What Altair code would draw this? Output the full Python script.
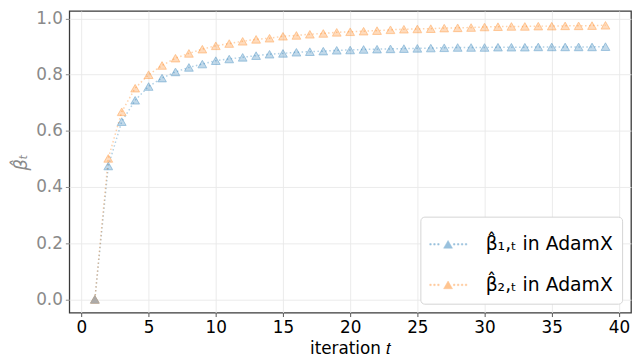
import altair as alt
import pandas as pd

t_values = list(range(1, 40))
beta1_hat = [0.0, 0.475, 0.633, 0.709, 0.758, 0.788, 0.810, 0.826, 0.838, 0.850,
             0.856, 0.862, 0.868, 0.873, 0.876, 0.880, 0.882, 0.884, 0.887, 0.888,
             0.890, 0.891, 0.892, 0.893, 0.894, 0.895, 0.896, 0.897, 0.897, 0.897,
             0.898, 0.898, 0.898, 0.899, 0.899, 0.899, 0.899, 0.899, 0.900]
beta2_hat = [0.0, 0.502, 0.668, 0.752, 0.800, 0.833, 0.859, 0.876, 0.891, 0.903,
             0.911, 0.919, 0.926, 0.930, 0.937, 0.940, 0.944, 0.947, 0.951, 0.953,
             0.955, 0.957, 0.960, 0.962, 0.963, 0.964, 0.966, 0.967, 0.968, 0.970,
             0.971, 0.972, 0.972, 0.973, 0.973, 0.974, 0.974, 0.975, 0.976]
series_names = ["β̂₁,ₜ in AdamX", "β̂₂,ₜ in AdamX"]
series_colors = ["#1f77b4", "#ff7f0e"]
start_t = [1]
start_value = [0.0]
x_ticks = [0, 5, 10, 15, 20, 25, 30, 35, 40]
y_ticks = [0.0, 0.2, 0.4, 0.6, 0.8, 1.0]

n = len(t_values)
df = pd.DataFrame({
    "t": t_values + t_values,
    "value": beta1_hat + beta2_hat,
    "series": [series_names[0]] * n + [series_names[1]] * n,
})
df_start = pd.DataFrame({"t": start_t, "value": start_value})

# legend symbol: dotted line with a triangle marker
parts = []
xx = -1.0
while xx < 0.95:
    if abs(xx + 0.04) > 0.32:
        parts.append(f"M{xx:.3f},-0.04h0.08v0.08h-0.08z")
    xx += 0.216
parts.append("M0,-0.21L0.243,0.21L-0.243,0.21Z")
legend_path = " ".join(parts)

FONT = "DejaVu Sans"

x_enc = alt.X("t:Q",
              scale=alt.Scale(domain=[-0.9, 40.9], nice=False, zero=False),
              axis=alt.Axis(values=x_ticks, title="iteration 𝑡", format="d",
                            labelColor="black", titleColor="black",
                            tickColor="#555", titlePadding=5))
y_enc = alt.Y("value:Q",
              scale=alt.Scale(domain=[-0.047, 1.027], nice=False, zero=False),
              axis=alt.Axis(values=y_ticks, title="β̂ₜ", format=".1f",
                            labelColor="#8a8a8a", titleColor="#8a8a8a",
                            tickColor="#8a8a8a", titlePadding=5,
                            titleFontStyle="italic", titleFontSize=18))
color_scale = alt.Scale(domain=series_names, range=series_colors)
color_enc = alt.Color("series:N", scale=color_scale,
                      legend=alt.Legend(title=None, orient="bottom-right", offset=9,
                                        symbolType=legend_path, symbolSize=1369,
                                        symbolOpacity=0.45, symbolStrokeWidth=0.5,
                                        labelFontSize=19, labelFont=FONT,
                                        labelColor="black", fillColor="white",
                                        strokeColor="#d5d5d5", cornerRadius=4,
                                        padding=9, rowPadding=12, labelOffset=19))

base = alt.Chart(df).encode(x=x_enc, y=y_enc, color=color_enc)
lines = base.mark_line(strokeDash=[1.5, 2.5], strokeWidth=1.5, opacity=0.35)
pts_fill = base.mark_point(shape="triangle-up", size=80, filled=True, opacity=0.28)
pts_edge = base.mark_point(shape="triangle-up", size=80, filled=False,
                           strokeWidth=1, opacity=0.35)
start_pt = alt.Chart(df_start).mark_point(
    shape="triangle-up", size=80, filled=True, color="#a8a8a8", opacity=0.9
).encode(x="t:Q", y="value:Q")

chart = alt.layer(lines, pts_fill, pts_edge, start_pt).properties(
    width=568, height=305,
    autosize=alt.AutoSizeParams(type="none"),
    padding={"left": 62, "top": 1, "right": 1, "bottom": 50},
).configure_view(
    stroke="#3a3a3a", strokeWidth=1.3
).configure_axis(
    domain=False, grid=True, gridColor="#e8e8e8", gridWidth=0.9,
    labelFont=FONT, titleFont=FONT, labelFontSize=17, titleFontSize=17,
    titleFontWeight="normal", tickSize=4, labelPadding=3,
)

chart.save("out.html", embed_options={"renderer": "svg", "actions": False})
